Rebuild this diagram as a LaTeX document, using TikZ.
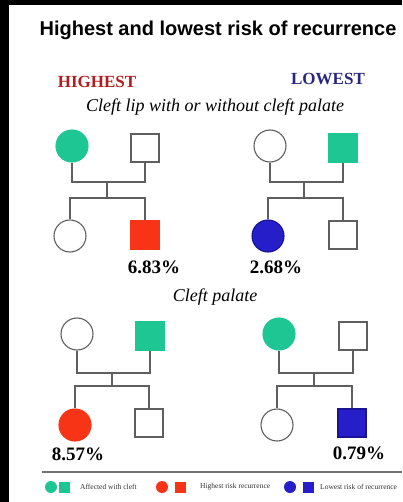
\documentclass[tikz,border=0pt]{standalone}
\usepackage{fontspec}
\setmainfont{Liberation Serif}
\newfontfamily\titlefont{Liberation Sans}
\definecolor{affgreen}{RGB}{30,198,148}
\definecolor{hired}{RGB}{248,52,22}
\definecolor{loblue}{RGB}{38,30,200}
\definecolor{loblueedge}{RGB}{25,20,150}
\definecolor{hitext}{RGB}{178,30,30}
\definecolor{lotext}{RGB}{40,38,128}
\definecolor{pedline}{RGB}{95,95,95}
\tikzset{
  x=1pt, y=-1pt,
  fem/.style={circle, minimum size=32pt, inner sep=0pt, draw=pedline, line width=1.1pt, fill=white},
  mal/.style={rectangle, minimum size=28pt, inner sep=0pt, draw=pedline, line width=1.1pt, fill=white},
  aff/.style={fill=affgreen, draw=affgreen},
  hig/.style={fill=hired, draw=hired},
  low/.style={fill=loblue, draw=loblueedge},
  conn/.style={draw=pedline, line width=1.1pt},
  pct/.style={font=\fontsize{19}{21}\selectfont\bfseries, inner sep=0pt},
  lfem/.style={circle, minimum size=12pt, inner sep=0pt},
  lmal/.style={rectangle, minimum size=11pt, inner sep=0pt},
  ltext/.style={font=\fontsize{7.5}{8}\selectfont, anchor=west, inner sep=0pt, text=black!80},
}
\begin{document}
\begin{tikzpicture}
\useasboundingbox (0,0) rectangle (402,502);
\fill[black] (0,0) rectangle (402,502);
\fill[white] (9,5) rectangle (402,502);

\node[font=\titlefont\fontsize{20}{22}\selectfont\bfseries, inner sep=0pt] (title) at (218,30) {Highest and lowest risk of recurrence};
\node[font=\fontsize{17}{19}\selectfont\bfseries, text=hitext, inner sep=0pt] (hi) at (97,82) {HIGHEST};
\node[font=\fontsize{17}{19}\selectfont\bfseries, text=lotext, inner sep=0pt] (lo) at (328,79) {LOWEST};
\node[font=\fontsize{18}{20}\selectfont\itshape, inner sep=0pt] (sub1) at (215,107) {Cleft lip with or without cleft palate};
\node[font=\fontsize{18}{20}\selectfont\itshape, inner sep=0pt] (sub2) at (215,297) {Cleft palate};

% Pedigree 1
\node[fem, aff] (p1a) at (72,146) {};
\node[mal] (p1b) at (145,148) {};
\node[fem] (p1c) at (70,236) {};
\node[mal, hig] (p1d) at (145,235) {};
\coordinate (p1m) at (107,182);
\coordinate (p1s) at (107,198);
\draw[conn] (p1a.south) |- (p1m) -| (p1b.south);
\draw[conn] (p1m) -- (p1s);
\draw[conn] (p1c.north) |- (p1s) -| (p1d.north);
\node[pct] (v1) at (154,267) {6.83\%};

% Pedigree 2
\node[fem] (p2a) at (270,146) {};
\node[mal, aff] (p2b) at (343,148) {};
\node[fem, low] (p2c) at (268,236) {};
\node[mal] (p2d) at (343,235) {};
\coordinate (p2m) at (304,182);
\coordinate (p2s) at (304,198);
\draw[conn] (p2a.south) |- (p2m) -| (p2b.south);
\draw[conn] (p2m) -- (p2s);
\draw[conn] (p2c.north) |- (p2s) -| (p2d.north);
\node[pct] (v2) at (276,267) {2.68\%};

% Pedigree 3
\node[fem] (p3a) at (77,334) {};
\node[mal, aff] (p3b) at (150,336) {};
\node[fem, hig] (p3c) at (75,425) {};
\node[mal] (p3d) at (149,423) {};
\coordinate (p3m) at (112,373);
\coordinate (p3s) at (112,386);
\draw[conn] (p3a.south) |- (p3m) -| (p3b.south);
\draw[conn] (p3m) -- (p3s);
\draw[conn] (p3c.north) |- (p3s) -| (p3d.north);
\node[pct] (v3) at (78,454) {8.57\%};

% Pedigree 4
\node[fem, aff] (p4a) at (279,334) {};
\node[mal] (p4b) at (353,336) {};
\node[fem] (p4c) at (277,425) {};
\node[mal, low] (p4d) at (352,423) {};
\coordinate (p4m) at (314,373);
\coordinate (p4s) at (314,386);
\draw[conn] (p4a.south) |- (p4m) -| (p4b.south);
\draw[conn] (p4m) -- (p4s);
\draw[conn] (p4c.north) |- (p4s) -| (p4d.north);
\node[pct] (v4) at (359,453) {0.79\%};

% Legend
\coordinate (ll) at (42,472);
\coordinate (lr) at (402,472);
\draw[draw=black!55, line width=1.5pt] (ll) -- (lr);
\node[lfem, fill=affgreen] (g1) at (51,487) {};
\node[lmal, fill=affgreen] (g2) at (64,487) {};
\node[ltext] (gt) at (80,487) {Affected with cleft};
\node[lfem, fill=hired] (r1) at (162,487) {};
\node[lmal, fill=hired] (r2) at (180,487) {};
\node[ltext] (rt) at (200,487) {Highest risk recurrence};
\node[lfem, fill=loblue] (b1) at (290,487) {};
\node[lmal, fill=loblue] (b2) at (308,487) {};
\node[ltext] (bt) at (320,487) {Lowest risk of recurrence};
\end{tikzpicture}
\end{document}
